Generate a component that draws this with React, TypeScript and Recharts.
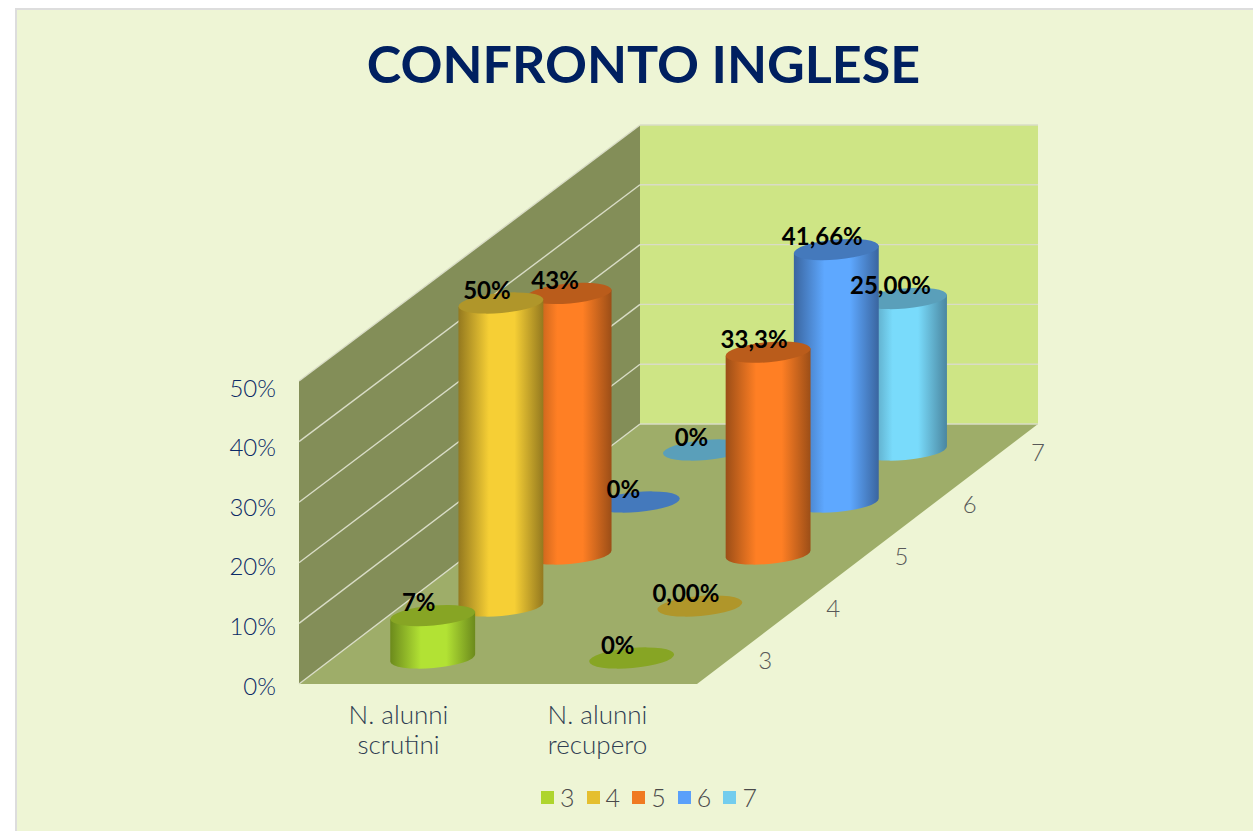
import React from "react";
import { BarChart, Bar, XAxis, YAxis, Legend, LabelList } from "recharts";

const categories = ["N. alunni scrutini", "N. alunni recupero"];
const seriesNames = ["3", "4", "5", "6", "7"];
const values3 = [7, 0];
const values4 = [50, 0];
const values5 = [43, 33.3];
const values6 = [0, 41.66];
const values7 = [0, 25];
const labels3 = ["7%", "0%"];
const labels4 = ["50%", "0,00%"];
const labels5 = ["43%", "33,3%"];
const labels6 = ["0%", "41,66%"];
const labels7 = ["0%", "25,00%"];
const yTicks = [0, 10, 20, 30, 40, 50];

const allValues = [values3, values4, values5, values6, values7];
const allLabels = [labels3, labels4, labels5, labels6, labels7];
const rows = categories.map((name, c) => {
  const row: Record<string, any> = { name };
  seriesNames.forEach((s, i) => { row["s" + s] = allValues[i][c]; });
  return row;
});

const legendColors = ["#AED52E", "#E5BF2F", "#F07A22", "#5AA0FA", "#73CDEE"];
const bodyColors = ["#B2E234", "#F6CF35", "#FF7F24", "#5EA8FF", "#79DBFB"];
const darkColors = ["#6C8A1C", "#94791F", "#9C4E17", "#3A659F", "#4A86A0"];
const topColors = ["#87A524", "#B0962A", "#BA5C1B", "#4479BC", "#5A9FBA"];

const FONT = "Lato, 'Open Sans', sans-serif";
const L = 299, R = 697, B = 684, T = 381;
const DX = 68.2, DY = 52;
const BW = 84;
const RX = 42.6, RY = 10, ROT = -5;
const tiltX = RX * Math.cos((ROT * Math.PI) / 180);
const tiltY = RX * Math.sin((ROT * Math.PI) / 180);
const backB = B - 5 * DY;
const backL = L + 5 * DX;
const backR = R + 5 * DX;
const yLeft = (v: number) => B - v * 6.06;
const yBack = (v: number) => backB - v * 5.98;

function Walls() {
  return (
    <g>
      <polygon points={`${L},${T} ${backL},${yBack(50)} ${backL},${backB} ${L},${B}`} fill="#838E58" />
      <polygon points={`${backL},${yBack(50)} ${backR},${yBack(50)} ${backR},${backB} ${backL},${backB}`} fill="#CEE585" />
      <polygon points={`${L},${B} ${R},${B} ${backR},${backB} ${backL},${backB}`} fill="#9EAD69" />
      {yTicks.map((v) => (
        <g key={v} stroke="#D9DCC6" strokeWidth={1.4} fill="none">
          <line x1={L} y1={yLeft(v)} x2={backL} y2={yBack(v)} />
          <line x1={backL} y1={yBack(v)} x2={backR} y2={yBack(v)} />
        </g>
      ))}
    </g>
  );
}

function DepthLabels() {
  return (
    <g>
      {seriesNames.map((s, i) => (
        <text key={s} x={R + (i + 0.5) * DX + 34} y={B - (i + 0.5) * DY + 1} textAnchor="middle" dominantBaseline="central"
          fontFamily={FONT} fontWeight={300} fontSize={24} fill="#595959">{s}</text>
      ))}
    </g>
  );
}

const centre = (x: number, width: number, i: number) => x + width / 2 + (i + 0.5) * DX - 0.4;
const lift = (i: number) => (i + 0.5) * DY;

const cylinder = (i: number) => (props: any) => {
  const cx = centre(props.x, props.width, i);
  const top = props.y - lift(i);
  const bottom = props.y + props.height - lift(i);
  const h = bottom - top;
  const body = `M${cx - tiltX},${top - tiltY} L${cx - tiltX},${bottom - tiltY} A${RX},${RY} ${ROT} 0 0 ${cx + tiltX},${bottom + tiltY} L${cx + tiltX},${top + tiltY} Z`;
  return (
    <g>
      {h > 0.5 && <path d={body} fill={`url(#cyl${i})`} />}
      <ellipse cx={cx} cy={top} rx={RX} ry={RY} transform={`rotate(${ROT} ${cx} ${top})`} fill={topColors[i]} />
    </g>
  );
};

const valueLabel = (i: number) => (props: any) => (
  <text x={centre(props.x, props.width, i) - 14} y={props.y - lift(i) - 14} textAnchor="middle" dominantBaseline="central"
    fontFamily={FONT} fontWeight={700} fontSize={24} fill="#000000">
    {allLabels[i][props.index]}
  </text>
);

const CategoryTick = (props: any) => {
  const words = String(props.payload.value).split(" ");
  const lines = [words.slice(0, 2).join(" "), words.slice(2).join(" ")];
  return (
    <text x={props.x} y={props.y} textAnchor="middle" fontFamily={FONT} fontWeight={300} fontSize={26} fill="#2F3D52">
      {lines.map((t, k) => (
        <tspan key={k} x={props.x} dy={k === 0 ? 32 : 30}>{t}</tspan>
      ))}
    </text>
  );
};

const ValueTick = (props: any) => {
  const v = props.payload.value;
  return (
    <text x={props.x} y={props.y + (v / 50) * 5 + 1} textAnchor="end" dominantBaseline="central"
      fontFamily={FONT} fontWeight={300} fontSize={24} fill="#0C2A66">{`${v}%`}</text>
  );
};

const LegendRow = () => (
  <div style={{ position: "relative", width: 1253, height: 30 }}>
    {seriesNames.map((s, i) => (
      <div key={s} style={{ position: "absolute", left: 541 + i * 45.6, top: 0, height: 30 }}>
        <span style={{ position: "absolute", left: 0, top: 8, width: 13, height: 13, background: legendColors[i] }} />
        <span style={{ position: "absolute", left: 19, top: -1, fontFamily: FONT, fontWeight: 300, fontSize: 25, lineHeight: "30px", color: "#4A4A4A" }}>{s}</span>
      </div>
    ))}
  </div>
);

export default function App() {
  const order = [4, 3, 2, 1, 0];
  return (
    <div style={{ position: "absolute", left: 0, top: 0, width: 1253, height: 831, overflow: "hidden", background: "#FFFFFF" }}>
      <div style={{ position: "absolute", left: 15, top: 8, right: 0, bottom: 0, background: "#EEF5D5", borderLeft: "2px solid #DDDDDD", borderTop: "2px solid #DDDDDD" }} />
      <div style={{ position: "absolute", left: 0, top: 0 }}>
        <BarChart width={1253} height={831} data={rows} barSize={BW} barGap={-BW}
          margin={{ top: T, left: L - 70, right: 1253 - R, bottom: 831 - B - 110 }}>
          <defs>
            {bodyColors.map((c, i) => (
              <linearGradient key={i} id={`cyl${i}`} x1="0" y1="0" x2="1" y2="0">
                <stop offset="0" stopColor={darkColors[i]} />
                <stop offset="0.36" stopColor={c} />
                <stop offset="0.66" stopColor={c} />
                <stop offset="1" stopColor={darkColors[i]} />
              </linearGradient>
            ))}
          </defs>
          <Walls />
          <DepthLabels />
          <text x={643.5} y={83} textAnchor="middle" fontFamily={FONT} fontWeight={700} fontSize={52} fill="#002060">CONFRONTO INGLESE</text>
          <XAxis dataKey="name" height={80} axisLine={false} tickLine={false} tick={<CategoryTick />} interval={0} />
          <YAxis type="number" domain={[0, 50]} ticks={yTicks} width={70} axisLine={false} tickLine={false} tickMargin={17}
            tick={<ValueTick />} />
          {order.map((i) => (
            <Bar key={i} dataKey={"s" + seriesNames[i]} name={seriesNames[i]} fill={legendColors[i]} isAnimationActive={false} shape={cylinder(i)}>
              <LabelList dataKey={"s" + seriesNames[i]} content={valueLabel(i)} />
            </Bar>
          ))}
          <Legend content={<LegendRow />} wrapperStyle={{ position: "absolute", left: 0, top: 783, width: 1253 }} />
        </BarChart>
      </div>
    </div>
  );
}
